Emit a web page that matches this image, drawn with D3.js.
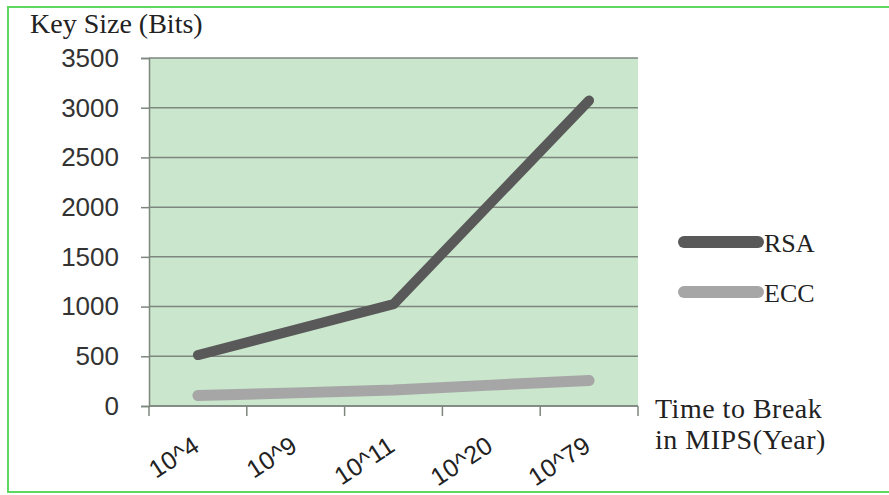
<!DOCTYPE html>
<html>
<head>
<meta charset="utf-8">
<script src="https://cdn.jsdelivr.net/npm/d3@7"></script>
<style>
  html, body { margin: 0; padding: 0; background: #ffffff; }
  svg { display: block; }
</style>
</head>
<body>
<svg id="chart" width="889" height="495"></svg>
<script>
// Key size needed to resist attack, by time-to-break (MIPS-years)
const categories = ["10^4", "10^9", "10^11", "10^20", "10^79"];
const rsaBits = [512, 768, 1024, 2048, 3072];
const eccBits = [106, 132, 160, 210, 256];
const yTicks = [0, 500, 1000, 1500, 2000, 2500, 3000, 3500];

const series = [
  { name: "RSA", values: rsaBits, color: "#595959", width: 10 },
  { name: "ECC", values: eccBits, color: "#a6a6a6", width: 11 }
];

const svg = d3.select("#chart");
const W = 889, H = 495;
const plot = { left: 149, right: 638, top: 58, bottom: 406 };

// outer frame
svg.append("rect")
  .attr("x", 8).attr("y", 7)
  .attr("width", W + 20).attr("height", 485)
  .attr("fill", "#ffffff")
  .attr("stroke", "#5fd85f")
  .attr("stroke-width", 2);

const x = d3.scaleBand().domain(categories).range([plot.left, plot.right]).padding(0);
const y = d3.scaleLinear().domain([0, 3500]).range([plot.bottom, plot.top]);

// plot background
svg.append("rect")
  .attr("x", plot.left).attr("y", plot.top)
  .attr("width", plot.right - plot.left).attr("height", plot.bottom - plot.top)
  .attr("fill", "#cae6cc");

// gridlines
svg.append("g").selectAll("line").data(yTicks).join("line")
  .attr("x1", plot.left).attr("x2", plot.right)
  .attr("y1", d => y(d)).attr("y2", d => y(d))
  .attr("stroke", "#7d877e").attr("stroke-width", 1.5);

// y axis
const yAxis = d3.axisLeft(y).tickValues(yTicks).tickSize(8).tickPadding(22).tickFormat(d3.format("d"));
const gy = svg.append("g").attr("transform", `translate(${plot.left},0)`).call(yAxis);
gy.select(".domain").attr("stroke", "#7d877e").attr("stroke-width", 1.5);
gy.selectAll(".tick line").attr("stroke", "#7d877e").attr("stroke-width", 1.5);
gy.selectAll(".tick text")
  .attr("font-family", "'Liberation Sans', Arial, sans-serif")
  .attr("font-size", 26).attr("fill", "#333333");

// x axis: ticks at category boundaries
const bounds = categories.map(c => x(c)).concat([x.range()[1]]);
const gx = svg.append("g");
gx.append("line")
  .attr("x1", plot.left).attr("x2", plot.right)
  .attr("y1", plot.bottom).attr("y2", plot.bottom)
  .attr("stroke", "#7d877e").attr("stroke-width", 1.5);
gx.selectAll("line.tk").data(bounds).join("line").attr("class", "tk")
  .attr("x1", d => d).attr("x2", d => d)
  .attr("y1", plot.bottom).attr("y2", plot.bottom + 10)
  .attr("stroke", "#7d877e").attr("stroke-width", 1.5);
gx.selectAll("text").data(categories).join("text")
  .attr("transform", d => `translate(${x(d) + x.bandwidth() / 2 + 3},${plot.bottom + 44}) rotate(-33)`)
  .attr("text-anchor", "end")
  .attr("font-family", "'Liberation Sans', Arial, sans-serif")
  .attr("font-size", 25).attr("fill", "#222222")
  .text(d => d);

// series lines
const line = d3.line()
  .x((d, i) => x(categories[i]) + x.bandwidth() / 2)
  .y(d => y(d));
svg.append("g").selectAll("path").data(series.slice().reverse()).join("path")
  .attr("d", d => line(d.values))
  .attr("fill", "none")
  .attr("stroke", d => d.color)
  .attr("stroke-width", d => d.width)
  .attr("stroke-linecap", "round")
  .attr("stroke-linejoin", "round");

// legend
const lg = svg.append("g").selectAll("g").data(series).join("g")
  .attr("transform", (d, i) => `translate(680,${242 + i * 50})`);
lg.append("line")
  .attr("x1", 4).attr("x2", 78).attr("y1", 0).attr("y2", 0)
  .attr("stroke", d => d.color).attr("stroke-width", 12)
  .attr("stroke-linecap", "round");
lg.append("text")
  .attr("x", 84).attr("y", 10)
  .attr("font-family", "'Liberation Serif', 'Times New Roman', serif")
  .attr("font-size", 26).attr("fill", "#222222")
  .text(d => d.name);

// axis titles
svg.append("text")
  .attr("x", 30).attr("y", 33)
  .attr("font-family", "'Liberation Serif', 'Times New Roman', serif")
  .attr("font-size", 28).attr("fill", "#222222")
  .text("Key Size (Bits)");

const xt = svg.append("text")
  .attr("font-family", "'Liberation Serif', 'Times New Roman', serif")
  .attr("font-size", 28).attr("letter-spacing", 0.5).attr("fill", "#222222");
xt.append("tspan").attr("x", 655).attr("y", 418).text("Time to Break");
xt.append("tspan").attr("x", 655).attr("y", 449).text("in MIPS(Year)");
</script>
</body>
</html>
